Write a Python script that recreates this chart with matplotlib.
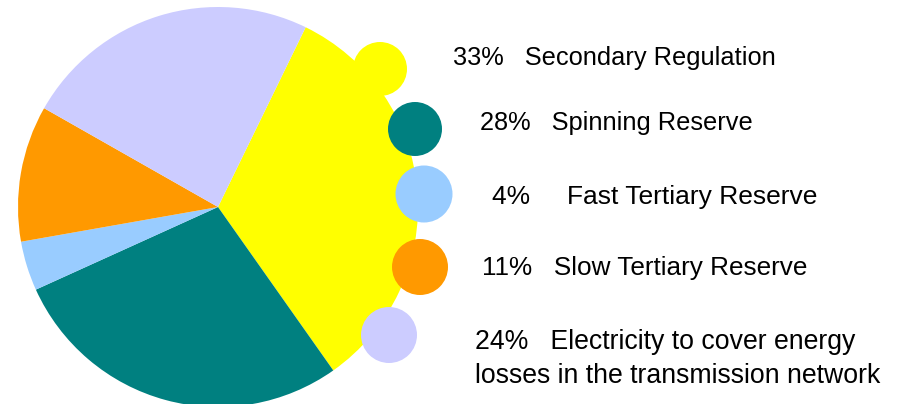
import matplotlib.pyplot as plt
from matplotlib.patches import Circle

plt.rcParams['font.family'] = ['Liberation Sans', 'DejaVu Sans']

# shares of the reserve costs (clockwise from the top-right)
shares = [33, 28, 4, 11, 24]
labels = [
    "33%   Secondary Regulation",
    "28%   Spinning Reserve",
    "4%     Fast Tertiary Reserve",
    "11%   Slow Tertiary Reserve",
    "24%   Electricity to cover energy\nlosses in the transmission network",
]
colors = ["#FFFF00", "#008080", "#99CCFF", "#FF9900", "#CCCCFF"]

W, H = 909, 404
fig = plt.figure(figsize=(W / 100, H / 100), dpi=100)
ax = fig.add_axes([0, 0, 1, 1])

# pie centre / radius in pixel coords (y up)
ax.pie(shares, colors=colors, startangle=64, counterclock=False,
       center=(218, H - 207), radius=200, frame=True,
       wedgeprops=dict(linewidth=0))
ax.set_xlim(0, W)
ax.set_ylim(0, H)
ax.axis("off")

# legend circles and texts
circ_xy = [(380, 69), (415, 129), (424, 194), (420, 267), (389, 335)]
circ_r = [27, 27, 28.5, 28, 28]
text_xy = [(453, 58), (480, 123), (492, 197), (482, 268), (475, 359)]
text_size = [18.3, 18.3, 19.0, 18.8, 19.2]

for (cx, cy), r, c in zip(circ_xy, circ_r, colors):
    ax.add_patch(Circle((cx, H - cy), r, facecolor=c, edgecolor="none", zorder=5))

for (tx, ty), lab, fs in zip(text_xy, labels, text_size):
    ax.text(tx, H - ty, lab, fontsize=fs, ha="left", va="center",
            linespacing=1.4, zorder=6)

fig.savefig("out.png", dpi=100)
